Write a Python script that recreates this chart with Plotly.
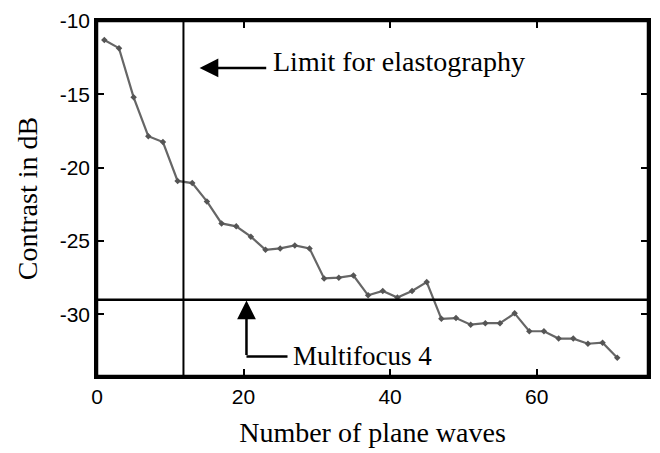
import plotly.graph_objects as go

# Data
n_waves = [1, 3, 5, 7, 9, 11, 13, 15, 17, 19, 21, 23, 25, 27, 29, 31, 33, 35,
           37, 39, 41, 43, 45, 47, 49, 51, 53, 55, 57, 59, 61, 63, 65, 67, 69, 71]
contrast_db = [-11.3, -11.85, -15.2, -17.85, -18.25, -20.9, -21.05, -22.3, -23.8, -24.0,
               -24.7, -25.6, -25.5, -25.3, -25.5, -27.55, -27.5, -27.35, -28.7, -28.4,
               -28.85, -28.4, -27.8, -30.3, -30.25, -30.7, -30.6, -30.6, -29.93, -31.15,
               -31.15, -31.65, -31.65, -32.0, -31.93, -32.95]

x_ticks = [0, 20, 40, 60]
y_ticks = [-10, -15, -20, -25, -30]

elasto_limit_x = 11.8
multifocus_level = -29.0

serif = "Liberation Serif, Times New Roman, serif"
sans = "Liberation Sans, Arial, sans-serif"

fig = go.Figure()
fig.add_trace(go.Scatter(
    x=n_waves, y=contrast_db, mode="lines+markers",
    line=dict(color="#666666", width=2.2),
    marker=dict(color="#555555", size=5, symbol="diamond"),
    showlegend=False,
))

# reference lines
fig.add_shape(type="line", xref="x", yref="paper", x0=elasto_limit_x, x1=elasto_limit_x,
              y0=0, y1=1, line=dict(color="black", width=2))
fig.add_shape(type="line", xref="paper", yref="y", x0=0, x1=1,
              y0=multifocus_level, y1=multifocus_level, line=dict(color="black", width=2.5))

# frame
fig.add_shape(type="rect", xref="paper", yref="paper", x0=0, x1=1, y0=0, y1=1,
              line=dict(color="black", width=2.5), fillcolor="rgba(0,0,0,0)", layer="above")

# Limit for elastography arrow + text
fig.add_annotation(x=14.0, y=-13.2, ax=23.3, ay=-13.2, xref="x", yref="y", axref="x", ayref="y",
                   text="", showarrow=True, arrowhead=2, arrowsize=1.5, arrowwidth=2.5,
                   arrowcolor="black", standoff=0, startstandoff=0)
fig.add_annotation(x=23.8, y=-12.75, xref="x", yref="y", text="Limit for elastography",
                   showarrow=False, xanchor="left", yanchor="middle",
                   font=dict(family=serif, size=28, color="black"))

# Multifocus 4 elbow arrow + text
fig.add_shape(type="line", xref="x", yref="y", x0=20.4, x1=26.0, y0=-32.87, y1=-32.87,
              line=dict(color="black", width=2.5))
fig.add_annotation(x=20.4, y=-29.05, ax=20.4, ay=-32.87, xref="x", yref="y", axref="x", ayref="y",
                   text="", showarrow=True, arrowhead=2, arrowsize=1.5, arrowwidth=2.5,
                   arrowcolor="black", standoff=0, startstandoff=0)
fig.add_annotation(x=26.5, y=-32.85, xref="x", yref="y", text="Multifocus 4",
                   showarrow=False, xanchor="left", yanchor="middle",
                   font=dict(family=serif, size=27, color="black"))

axis_common = dict(showline=True, linecolor="black", linewidth=2.5, mirror="allticks",
                   ticks="inside", ticklen=7, tickwidth=2, tickcolor="black",
                   showgrid=False, zeroline=False,
                   tickfont=dict(family=sans, size=21, color="black"))

fig.update_xaxes(range=[0, 75.2], tickvals=x_ticks, ticktext=[str(v) for v in x_ticks],
                 title=dict(text="Number of plane waves", font=dict(family=serif, size=28, color="black"),
                            standoff=16),
                 **axis_common)
fig.update_yaxes(range=[-34.2, -10], tickvals=y_ticks, ticktext=[str(v) for v in y_ticks],
                 title=dict(text="Contrast in dB", font=dict(family=serif, size=28, color="black"),
                            standoff=14),
                 **axis_common)

fig.update_layout(width=660, height=453, margin=dict(l=97, r=9, t=16, b=74),
                  plot_bgcolor="white", paper_bgcolor="white")

fig.write_html("out.html")
